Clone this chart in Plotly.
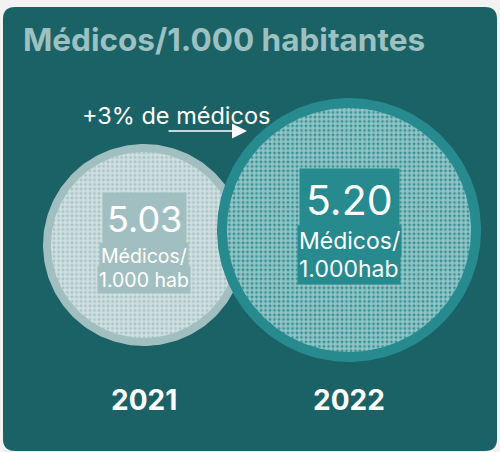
import numpy as np
import plotly.graph_objects as go

# ---- data ----
years = ["2021", "2022"]
values = [5.03, 5.20]
value_labels = ["5.03", "5.20"]
unit_line1 = ["Médicos/", "Médicos/"]
unit_line2 = ["1.000 hab", "1.000hab"]
title_text = "Médicos/1.000 habitantes"
change_text = "+3% de médicos"

# ---- style / layout (pixel-based coordinate system) ----
W, H = 500, 452
BG_PAGE = "#f2f2f2"
BG_CARD = "#1b6266"
TITLE_COL = "#9dc0c1"
CIRCLE_COLS = ["#a1bfc1", "#278a8e"]
centers_x = [144, 349]
centers_y = [245, 230]
radii = [101, 132]
ring = [8, 10]
num_sizes = [36, 41]
unit_sizes = [19.5, 23]
FONT = "Inter"

fig = go.Figure()

# card background
r = 12
x0, x1, y0, y1 = 3, 497, 7, 451
card = (f"M{x0+r},{y0} L{x1-r},{y0} Q{x1},{y0} {x1},{y0+r} L{x1},{y1-r} Q{x1},{y1} {x1-r},{y1} "
        f"L{x0+r},{y1} Q{x0},{y1} {x0},{y1-r} L{x0},{y0+r} Q{x0},{y0} {x0+r},{y0} Z")
fig.add_shape(type="path", path=card, xref="x", yref="y", fillcolor=BG_CARD,
              line=dict(width=0), layer="below")

t = np.linspace(0, 2 * np.pi, 241)
for i, yr in enumerate(years):
    cx, cy, R = centers_x[i], centers_y[i], radii[i]
    fig.add_trace(go.Scatter(x=cx + R * np.cos(t), y=cy + R * np.sin(t), mode="lines",
                             fill="toself", fillcolor=CIRCLE_COLS[i], line=dict(width=0),
                             hoverinfo="skip", showlegend=False))
    Ri = R - ring[i]
    fig.add_trace(go.Scatter(x=cx + Ri * np.cos(t), y=cy + Ri * np.sin(t), mode="lines",
                             fill="toself", fillcolor=CIRCLE_COLS[i], line=dict(width=0),
                             fillpattern=dict(shape=".", fgcolor="white", bgcolor=CIRCLE_COLS[i],
                                              size=4.5, solidity=0.75),
                             hoverinfo="skip", showlegend=False))

# value texts with solid backgrounds
num_y = [219, 200]
u1_y = [256, 241]
u2_y = [280, 269]
num_pad = [4, 6]
for i in range(len(years)):
    cx = centers_x[i]
    col = CIRCLE_COLS[i]
    fig.add_annotation(x=cx, y=num_y[i], text=value_labels[i], showarrow=False,
                       font=dict(family=FONT, size=num_sizes[i], color="white"),
                       bgcolor=col, borderpad=num_pad[i], xanchor="center", yanchor="middle")
    fig.add_annotation(x=cx, y=u1_y[i], text=unit_line1[i], showarrow=False,
                       font=dict(family=FONT, size=unit_sizes[i], color="white"),
                       bgcolor=col, borderpad=1, xanchor="center", yanchor="middle")
    fig.add_annotation(x=cx, y=u2_y[i], text=unit_line2[i], showarrow=False,
                       font=dict(family=FONT, size=unit_sizes[i], color="white"),
                       bgcolor=col, borderpad=1, xanchor="center", yanchor="middle")
    fig.add_annotation(x=cx, y=400, text=f"<b>{years[i]}</b>", showarrow=False,
                       font=dict(family=FONT, size=28, color="white"),
                       xanchor="center", yanchor="middle")

# title
fig.add_annotation(x=21, y=39, text=f"<b>{title_text}</b>", showarrow=False,
                   font=dict(family=FONT, size=31.5, color=TITLE_COL),
                   xanchor="left", yanchor="middle")

# change label + arrow
fig.add_annotation(x=176, y=115, text=change_text, showarrow=False,
                   font=dict(family=FONT, size=23.5, color="white"),
                   xanchor="center", yanchor="middle")
fig.add_annotation(x=247, y=131, ax=167, ay=131, axref="x", ayref="y", xref="x", yref="y",
                   text="", showarrow=True, arrowhead=2, arrowsize=2, arrowwidth=1.5,
                   arrowcolor="white")

fig.update_layout(
    width=W, height=H, margin=dict(l=0, r=0, t=0, b=0),
    paper_bgcolor=BG_PAGE, plot_bgcolor=BG_PAGE,
    xaxis=dict(range=[0, W], visible=False, fixedrange=True),
    yaxis=dict(range=[H, 0], visible=False, fixedrange=True),
    showlegend=False,
)

fig.write_html("out.html", config={"displayModeBar": False},
               post_script="document.body.style.margin='0';document.body.style.overflow='hidden';")
